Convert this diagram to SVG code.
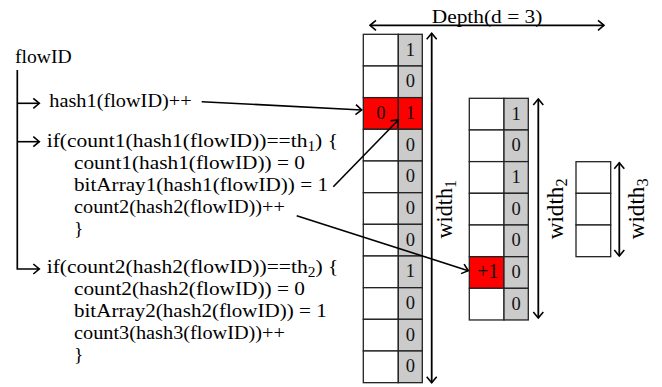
<svg xmlns="http://www.w3.org/2000/svg" width="662" height="387" viewBox="0 0 662 387">
<style>
.w{fill:#fff;stroke:#222;stroke-width:1.3}
.g{fill:#cbcbcb;stroke:#222;stroke-width:1.3}
.r{fill:#ff0000;stroke:#222;stroke-width:1.3}
.num{font-family:"Liberation Serif",serif;font-size:18.5px;text-anchor:middle;fill:#111}
.code{font-family:"Liberation Serif",serif;font-size:19.5px;fill:#000}
.lbl{font-family:"Liberation Serif",serif;font-size:22.5px;fill:#000}
.ln{fill:none;stroke:#000;stroke-width:1.7}
.ar{fill:none;stroke:#000;stroke-width:1.6;marker-end:url(#ah)}
.dbl{fill:none;stroke:#000;stroke-width:1.8;marker-start:url(#ah);marker-end:url(#ah)}
</style>
<defs>
<marker id="ah" viewBox="0 0 12 12" refX="10.5" refY="6" markerWidth="12" markerHeight="12" markerUnits="userSpaceOnUse" orient="auto-start-reverse">
<path d="M4.5,1 L10.5,6 L4.5,11" fill="none" stroke="#000" stroke-width="1.6"/>
</marker>
</defs>

<g id="code">
<text class="code" x="15" y="62.5" textLength="56.7" lengthAdjust="spacingAndGlyphs">flowID</text>
<text class="code" x="49.3" y="107.3" textLength="142.4" lengthAdjust="spacingAndGlyphs">hash1(flowID)++</text>
<text class="code" x="46.7" y="146.7" textLength="291.3" lengthAdjust="spacingAndGlyphs">if(count1(hash1(flowID))==th<tspan font-size="14" dy="4">1</tspan><tspan dy="-4">) {</tspan></text>
<text class="code" x="74" y="168.8" textLength="231" lengthAdjust="spacingAndGlyphs">count1(hash1(flowID)) = 0</text>
<text class="code" x="74" y="190.8" textLength="254" lengthAdjust="spacingAndGlyphs">bitArray1(hash1(flowID)) = 1</text>
<text class="code" x="74" y="213" textLength="211" lengthAdjust="spacingAndGlyphs">count2(hash2(flowID))++</text>
<text class="code" x="74" y="235">}</text>
<text class="code" x="46.7" y="273.3" textLength="291.6" lengthAdjust="spacingAndGlyphs">if(count2(hash2(flowID))==th<tspan font-size="14" dy="4">2</tspan><tspan dy="-4">) {</tspan></text>
<text class="code" x="74" y="295.3" textLength="231" lengthAdjust="spacingAndGlyphs">count2(hash2(flowID)) = 0</text>
<text class="code" x="74" y="317" textLength="252.7" lengthAdjust="spacingAndGlyphs">bitArray2(hash2(flowID)) = 1</text>
<text class="code" x="74" y="338.7" textLength="211" lengthAdjust="spacingAndGlyphs">count3(hash3(flowID))++</text>
<text class="code" x="74" y="360.5">}</text>
</g>

<g id="table1">
<rect class="w" x="363.3" y="34.3" width="35" height="31.67"/><rect class="g" x="398.3" y="34.3" width="24" height="31.67"/>
<rect class="w" x="363.3" y="66" width="35" height="31.67"/><rect class="g" x="398.3" y="66" width="24" height="31.67"/>
<rect class="r" x="363.3" y="97.6" width="35" height="31.67"/><rect class="r" x="398.3" y="97.6" width="24" height="31.67"/>
<rect class="w" x="363.3" y="129.3" width="35" height="31.67"/><rect class="g" x="398.3" y="129.3" width="24" height="31.67"/>
<rect class="w" x="363.3" y="161" width="35" height="31.67"/><rect class="g" x="398.3" y="161" width="24" height="31.67"/>
<rect class="w" x="363.3" y="192.7" width="35" height="31.67"/><rect class="g" x="398.3" y="192.7" width="24" height="31.67"/>
<rect class="w" x="363.3" y="224.3" width="35" height="31.67"/><rect class="g" x="398.3" y="224.3" width="24" height="31.67"/>
<rect class="w" x="363.3" y="256" width="35" height="31.67"/><rect class="g" x="398.3" y="256" width="24" height="31.67"/>
<rect class="w" x="363.3" y="287.7" width="35" height="31.67"/><rect class="g" x="398.3" y="287.7" width="24" height="31.67"/>
<rect class="w" x="363.3" y="319.3" width="35" height="31.67"/><rect class="g" x="398.3" y="319.3" width="24" height="31.67"/>
<rect class="w" x="363.3" y="351" width="35" height="31.67"/><rect class="g" x="398.3" y="351" width="24" height="31.67"/>
<text class="num" x="410.3" y="55.5">1</text>
<text class="num" x="410.3" y="87.2">0</text>
<text class="num" x="380.8" y="118.8">0</text>
<text class="num" x="410.3" y="118.8">1</text>
<text class="num" x="410.3" y="150.5">0</text>
<text class="num" x="410.3" y="182.2">0</text>
<text class="num" x="410.3" y="213.9">0</text>
<text class="num" x="410.3" y="245.5">0</text>
<text class="num" x="410.3" y="277.2">1</text>
<text class="num" x="410.3" y="308.9">0</text>
<text class="num" x="410.3" y="340.5">0</text>
<text class="num" x="410.3" y="372.2">0</text>
</g>

<g id="table2">
<rect class="w" x="469.3" y="98.3" width="34.7" height="31.67"/><rect class="g" x="504" y="98.3" width="24.3" height="31.67"/>
<rect class="w" x="469.3" y="130" width="34.7" height="31.67"/><rect class="g" x="504" y="130" width="24.3" height="31.67"/>
<rect class="w" x="469.3" y="161.6" width="34.7" height="31.67"/><rect class="g" x="504" y="161.6" width="24.3" height="31.67"/>
<rect class="w" x="469.3" y="193.3" width="34.7" height="31.67"/><rect class="g" x="504" y="193.3" width="24.3" height="31.67"/>
<rect class="w" x="469.3" y="225" width="34.7" height="31.67"/><rect class="g" x="504" y="225" width="24.3" height="31.67"/>
<rect class="r" x="469.3" y="256.7" width="34.7" height="31.67"/><rect class="g" x="504" y="256.7" width="24.3" height="31.67"/>
<rect class="w" x="469.3" y="288.3" width="34.7" height="31.67"/><rect class="g" x="504" y="288.3" width="24.3" height="31.67"/>
<text class="num" x="516.2" y="119.5">1</text>
<text class="num" x="516.2" y="151.2">0</text>
<text class="num" x="516.2" y="182.8">1</text>
<text class="num" x="516.2" y="214.5">0</text>
<text class="num" x="516.2" y="246.2">0</text>
<text class="num" x="487.8" y="278" style="font-size:20px">+1</text>
<text class="num" x="516.2" y="277.9">0</text>
<text class="num" x="516.2" y="309.5">0</text>
</g>

<g id="table3">
<rect class="w" x="576" y="161.7" width="34.7" height="31.67"/>
<rect class="w" x="576" y="193.3" width="34.7" height="31.67"/>
<rect class="w" x="576" y="225" width="34.7" height="31.67"/>
</g>

<g id="dimensions">
<line class="dbl" x1="370" y1="25.3" x2="604" y2="25.3"/>
<text class="code" x="431.7" y="22.5" textLength="110.7" lengthAdjust="spacingAndGlyphs">Depth(d = 3)</text>
<line class="dbl" x1="431.7" y1="33.3" x2="431.7" y2="382.7"/>
<text class="lbl" transform="translate(452,238.5) rotate(-90)" textLength="58.5" lengthAdjust="spacingAndGlyphs">width<tspan font-size="16" dy="4">1</tspan></text>
<line class="dbl" x1="538.3" y1="99" x2="538.3" y2="318"/>
<text class="lbl" transform="translate(563,239.3) rotate(-90)" textLength="61" lengthAdjust="spacingAndGlyphs">width<tspan font-size="16" dy="4">2</tspan></text>
<line class="dbl" x1="619.3" y1="162.7" x2="619.3" y2="256"/>
<text class="lbl" transform="translate(643.5,239.3) rotate(-90)" textLength="61" lengthAdjust="spacingAndGlyphs">width<tspan font-size="16" dy="4">3</tspan></text>
</g>

<g id="connectors">
<polyline class="ln" points="17.3,70 17.3,269 38,269"/>
<line class="ar" x1="17.3" y1="103.3" x2="39.3" y2="103.3"/>
<line class="ar" x1="17.3" y1="141.7" x2="39.3" y2="141.7"/>
<line class="ar" x1="37" y1="269" x2="39.3" y2="269"/>
<line class="ar" x1="201.7" y1="101.7" x2="361.7" y2="110"/>
<line class="ar" x1="333.3" y1="186.7" x2="398.3" y2="120"/>
<line class="ar" x1="296.7" y1="215.7" x2="468.3" y2="270.7"/>
</g>
</svg>
